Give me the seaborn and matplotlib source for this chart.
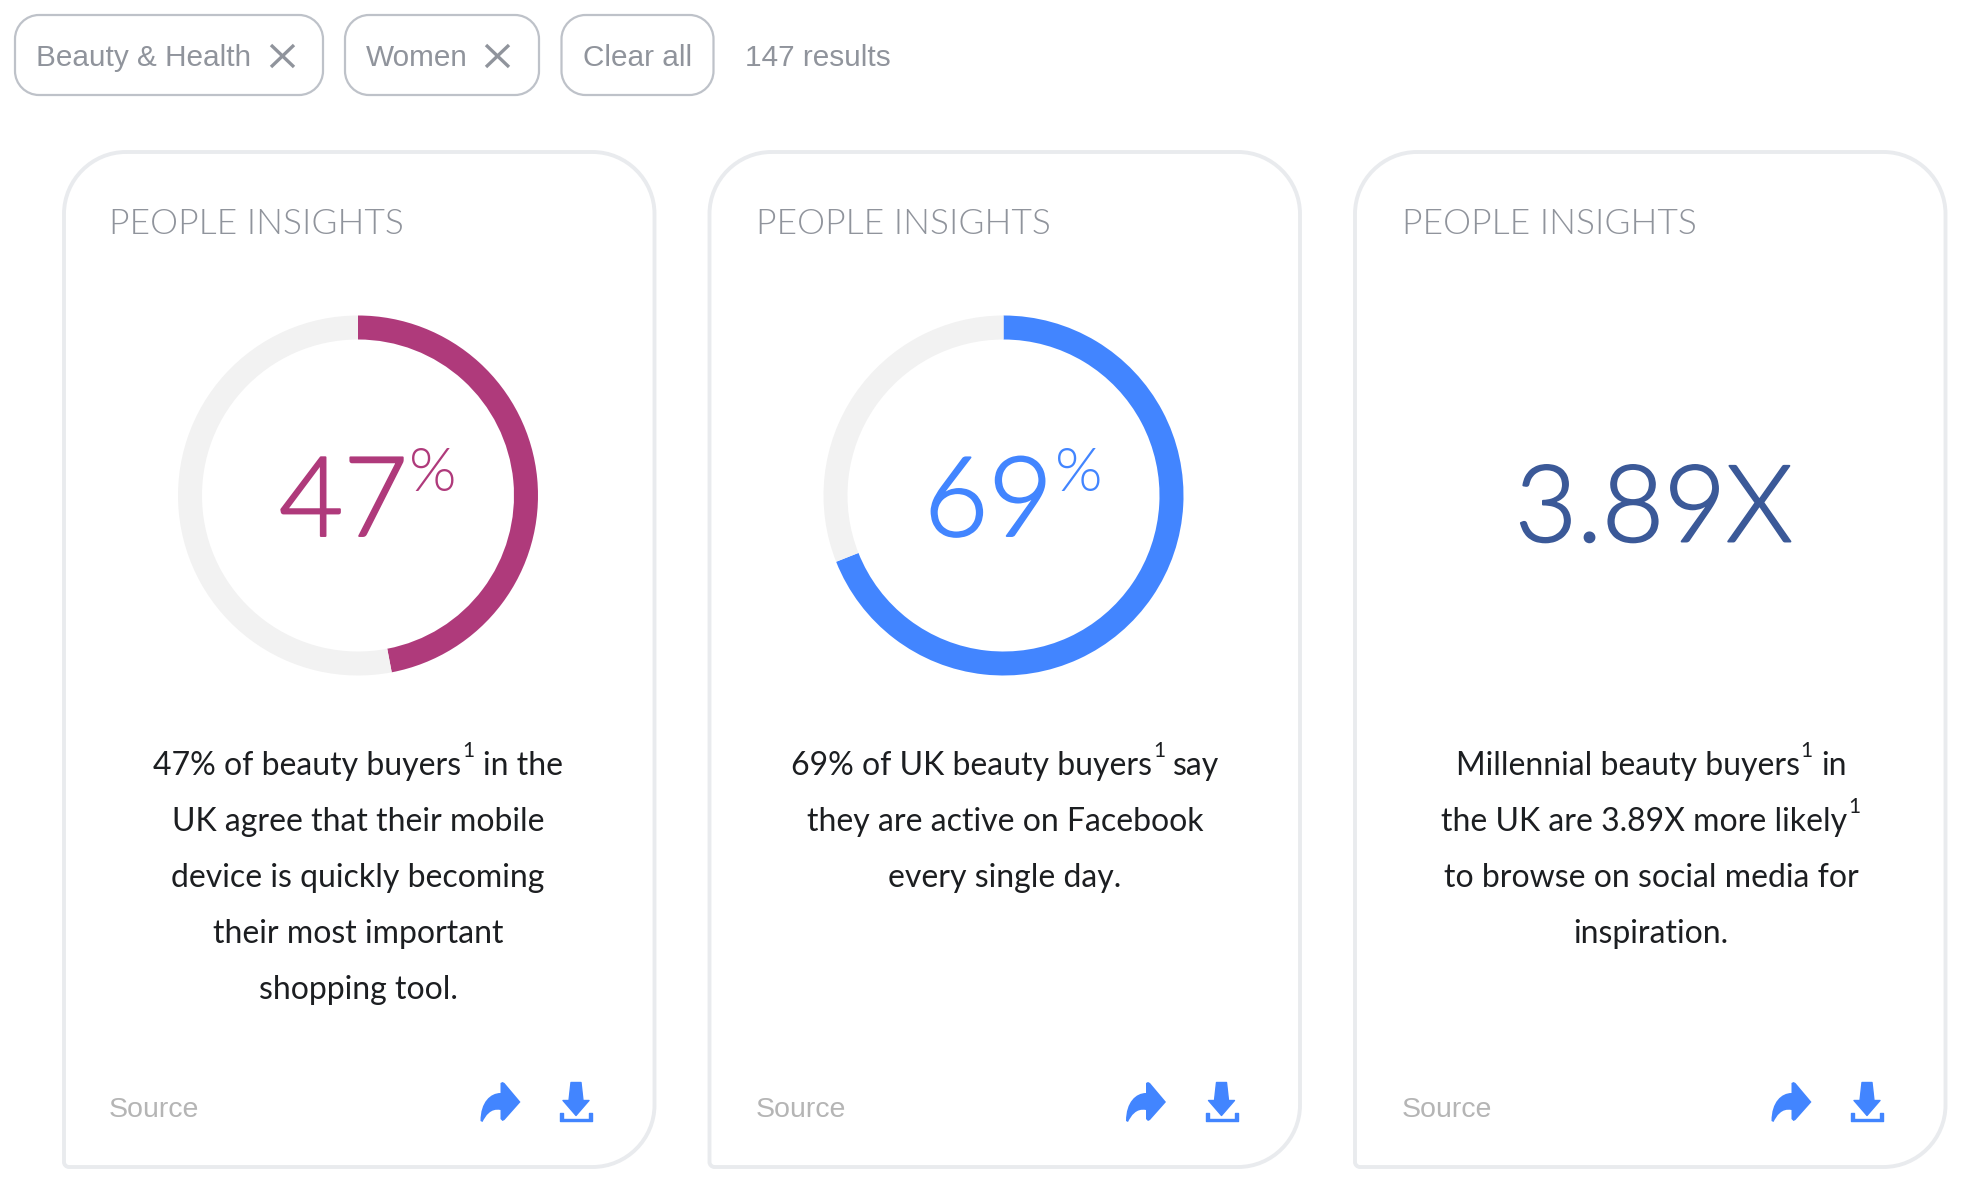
import matplotlib
matplotlib.use("Agg")
import matplotlib.pyplot as plt
import matplotlib.patheffects as pe
from matplotlib.patches import PathPatch
from matplotlib.path import Path
import seaborn as sns

W, H = 1988, 1196
chip_labels = ["Beauty & Health", "Women", "Clear all"]
result_label = "147 results"
card_title = "PEOPLE INSIGHTS"
source_label = "Source"
ring_values = [47, 69]
ring_rest = [53, 31]
ring_colors = ["#AF3A7B", "#4285FF"]
big_labels = ["47", "69", "3.89X"]
big_colors = ["#AF3A7B", "#4285FF", "#3B5998"]
card_lines = [
    [[("47% of beauty buyers", 0), ("1", 1), ("in the", 0)],
     [("UK agree that their mobile", 0)],
     [("device is quickly becoming", 0)],
     [("their most important", 0)],
     [("shopping tool.", 0)]],
    [[("69% of UK beauty buyers", 0), ("1", 1), ("say", 0)],
     [("they are active on Facebook", 0)],
     [("every single day.", 0)]],
    [[("Millennial beauty buyers", 0), ("1", 1), ("in", 0)],
     [("the UK are 3.89X more likely", 0), ("1", 1)],
     [("to browse on social media for", 0)],
     [("inspiration.", 0)]],
]

sns.set_theme(style="white")
plt.rcParams["font.family"] = ["Lato", "DejaVu Sans"]
fig = plt.figure(figsize=(W / 100, H / 100), dpi=100, facecolor="white")
bg = fig.add_axes([0, 0, 1, 1])
bg.set_xlim(0, W)
bg.set_ylim(H, 0)
bg.axis("off")
sns.despine(ax=bg, left=True, bottom=True)
rend = fig.canvas.get_renderer()

BODY = 23
SUP = 15
GREY = "#90949C"


def rounded(x0, y0, x1, y1, tl, tr, br, bl):
    k = 0.45
    v = [(x0 + tl, y0), (x1 - tr, y0),
         (x1 - tr * k, y0), (x1, y0 + tr * k), (x1, y0 + tr),
         (x1, y1 - br),
         (x1, y1 - br * k), (x1 - br * k, y1), (x1 - br, y1),
         (x0 + bl, y1),
         (x0 + bl * k, y1), (x0, y1 - bl * k), (x0, y1 - bl),
         (x0, y0 + tl),
         (x0, y0 + tl * k), (x0 + tl * k, y0), (x0 + tl, y0)]
    c = [Path.MOVETO, Path.LINETO, Path.CURVE4, Path.CURVE4, Path.CURVE4,
         Path.LINETO, Path.CURVE4, Path.CURVE4, Path.CURVE4,
         Path.LINETO, Path.CURVE4, Path.CURVE4, Path.CURVE4,
         Path.LINETO, Path.CURVE4, Path.CURVE4, Path.CURVE4]
    return Path(v, c)


def mixed_line(cx, base, parts):
    gap = 6
    items = []
    total = 0
    for i, (s, sup) in enumerate(parts):
        t = bg.text(0, base - (18 if sup else 0), s, fontsize=SUP if sup else BODY,
                    color="#1C1E21", ha="left", va="baseline", fontweight="normal")
        w = t.get_window_extent(rend).width
        pad = gap + 2 if (sup and i < len(parts) - 1) else (1 if i < len(parts) - 1 and parts[i + 1][1] else 0)
        items.append((t, w, pad))
        total += w + pad
    x = cx - total / 2
    for t, w, pad in items:
        t.set_x(x)
        x += w + pad


def share_icon(dx):
    x, y = 480.5 + dx, 1082
    v = [(x + 0, y + 39), (x + 0, y + 20), (x + 10, y + 11), (x + 20, y + 11),
         (x + 20, y + 1), (x + 22, y), (x + 24, y + 1), (x + 40, y + 20),
         (x + 24, y + 38), (x + 22, y + 39), (x + 20, y + 37), (x + 20, y + 28),
         (x + 10, y + 26), (x + 5, y + 34), (x + 2, y + 40), (x + 0, y + 39)]
    c = [Path.MOVETO, Path.CURVE4, Path.CURVE4, Path.CURVE4,
         Path.LINETO, Path.LINETO, Path.LINETO, Path.LINETO,
         Path.LINETO, Path.LINETO, Path.LINETO, Path.LINETO,
         Path.CURVE4, Path.CURVE4, Path.CURVE4, Path.CLOSEPOLY]
    bg.add_patch(PathPatch(Path(v, c), fc="#4285FF", ec="none"))


def download_icon(dx):
    x, y = 560 + dx, 1082.5
    arrow = [(x + 11, y), (x + 21, y), (x + 23, y + 18), (x + 29, y + 18), (x + 16, y + 33),
             (x + 3, y + 18), (x + 9, y + 18), (x + 11, y)]
    bg.add_patch(plt.Polygon(arrow, closed=True, fc="#4285FF", ec="#4285FF", lw=1, joinstyle="round"))
    tray = [(x, y + 30), (x + 3, y + 30), (x + 3, y + 36), (x + 29, y + 36), (x + 29, y + 30),
            (x + 32, y + 30), (x + 32, y + 38), (x, y + 38)]
    bg.add_patch(plt.Polygon(tray, closed=True, fc="#4285FF", ec="#4285FF", lw=1, joinstyle="round"))


# filter chips
chips = [(15, 323), (345, 539), (561.5, 713.5)]
chip_text_x = [35.5, 366, 583]
for (x0, x1), s, tx in zip(chips, chip_labels, chip_text_x):
    bg.add_patch(PathPatch(rounded(x0, 15, x1, 95, 24, 24, 24, 24), fc="white", ec="#BEC2C9", lw=1.6))
    bg.text(tx, 66, s, family=["Liberation Sans"], fontsize=21.4, color=GREY, ha="left", va="baseline")
for x0 in (271, 486):
    bg.plot([x0, x0 + 23], [45, 67], color=GREY, lw=2.4, solid_capstyle="butt")
    bg.plot([x0, x0 + 23], [67, 45], color=GREY, lw=2.4, solid_capstyle="butt")
bg.text(745, 66, result_label, family=["Liberation Sans"], fontsize=21.4, color=GREY, ha="left", va="baseline")

offsets = [0, 645.5, 1291]
text_offsets = [0, 647, 1293]
for i, dx in enumerate(offsets):
    bg.add_patch(PathPatch(rounded(64 + dx, 152, 654.5 + dx, 1167, 62, 62, 62, 5),
                           fc="white", ec="#E9EBEE", lw=2.8))
    tdx = text_offsets[i]
    bg.text(109 + tdx, 234.5, card_title, fontsize=25.5, fontweight=300, color=GREY, ha="left", va="baseline")
    bg.text(109 + tdx, 1117, source_label, family=["Liberation Sans"], fontsize=20.5, color="#B5B5B5",
            ha="left", va="baseline")
    share_icon(dx)
    download_icon(dx)
    for k, parts in enumerate(card_lines[i]):
        mixed_line(358 + tdx, 775 + 56 * k, parts)

# rings
for i, (val, rest, col) in enumerate(zip(ring_values, ring_rest, ring_colors)):
    cx, cy, R = 358 + offsets[i], 495.5, 180
    ax = fig.add_axes([(cx - R) / W, 1 - (cy + R) / H, 2 * R / W, 2 * R / H])
    ax.pie([val, rest], colors=sns.color_palette([col, "#F2F2F2"]), startangle=90, counterclock=False,
           radius=1, wedgeprops={"width": 24 / 180, "linewidth": 0})
    ax.set_xlim(-1, 1)
    ax.set_ylim(-1, 1)
    ax.patch.set_visible(False)

# big numbers
big_x = [279, 924, 1515]
big_y = [536, 536, 541.5]
big_size = [80, 80, 77]
percent_centres = [432.5, 1079]
for i, s in enumerate(big_labels):
    bg.text(big_x[i], big_y[i], s, fontsize=big_size[i], fontweight=300, color=big_colors[i],
            ha="left", va="baseline",
            path_effects=[pe.withStroke(linewidth=1.4, foreground=big_colors[i])])
    if i < 2:
        bg.text(percent_centres[i], 491, "%", fontsize=44, fontweight=300, color=big_colors[i],
                ha="center", va="baseline")

fig.savefig("out.png", dpi=100, facecolor="white")
